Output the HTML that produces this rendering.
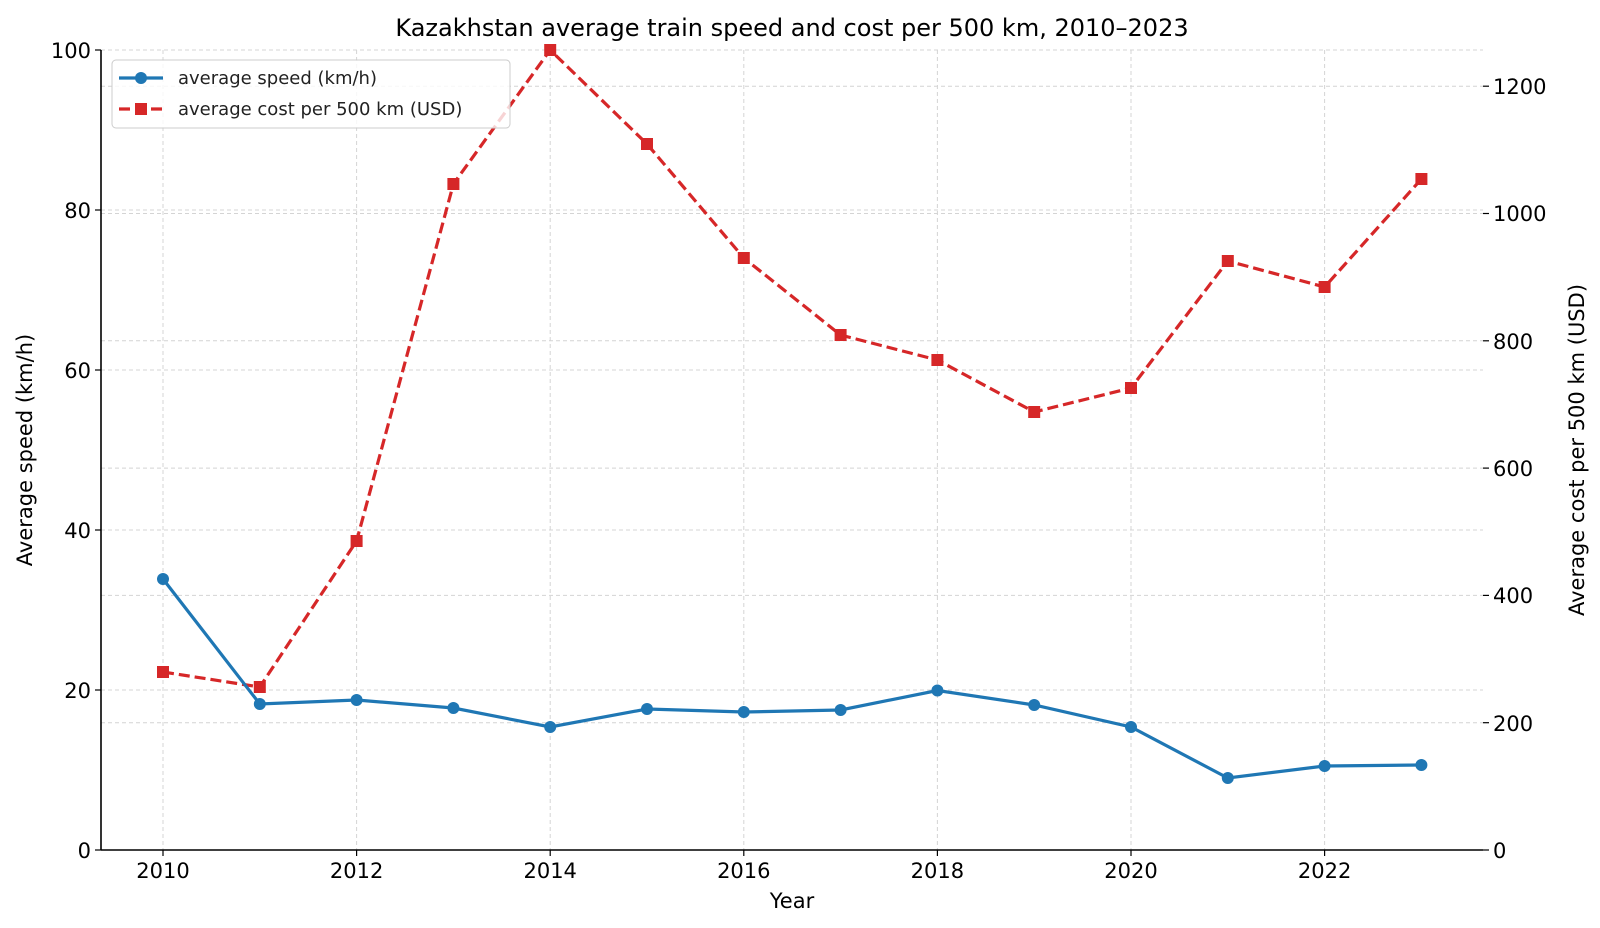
<!DOCTYPE html>
<html><head><meta charset="utf-8"><style>
html,body{margin:0;padding:0;background:#fff;}
svg{display:block;font-family:"DejaVu Sans","Liberation Sans",sans-serif;}
</style></head><body>
<svg width="1600" height="928" viewBox="0 0 1600 928" xmlns="http://www.w3.org/2000/svg">
<rect width="1600" height="928" fill="#fff"/>
<g stroke="#d4d4d4" stroke-width="1" stroke-dasharray="4,3">
<line x1="163" y1="50" x2="163" y2="850"/><line x1="356.6" y1="50" x2="356.6" y2="850"/><line x1="550.2" y1="50" x2="550.2" y2="850"/><line x1="743.8" y1="50" x2="743.8" y2="850"/><line x1="937.4" y1="50" x2="937.4" y2="850"/><line x1="1131" y1="50" x2="1131" y2="850"/><line x1="1324.6" y1="50" x2="1324.6" y2="850"/>
<line x1="101" y1="50" x2="1483" y2="50"/><line x1="101" y1="210" x2="1483" y2="210"/><line x1="101" y1="370" x2="1483" y2="370"/><line x1="101" y1="530" x2="1483" y2="530"/><line x1="101" y1="690" x2="1483" y2="690"/>
<line x1="101" y1="722.7" x2="1483" y2="722.7"/><line x1="101" y1="595.4" x2="1483" y2="595.4"/><line x1="101" y1="468.1" x2="1483" y2="468.1"/><line x1="101" y1="340.8" x2="1483" y2="340.8"/><line x1="101" y1="213.5" x2="1483" y2="213.5"/><line x1="101" y1="86.2" x2="1483" y2="86.2"/>
</g>
<g stroke="#000" stroke-width="1.6" fill="none">
<line x1="101" y1="50" x2="101" y2="850"/><line x1="101" y1="850" x2="1483" y2="850"/>
</g>
<g stroke="#000" stroke-width="1.2">
<line x1="95" y1="50" x2="101" y2="50"/><line x1="95" y1="210" x2="101" y2="210"/><line x1="95" y1="370" x2="101" y2="370"/><line x1="95" y1="530" x2="101" y2="530"/><line x1="95" y1="690" x2="101" y2="690"/><line x1="95" y1="850" x2="101" y2="850"/>
<line x1="163" y1="850" x2="163" y2="856"/><line x1="356.6" y1="850" x2="356.6" y2="856"/><line x1="550.2" y1="850" x2="550.2" y2="856"/><line x1="743.8" y1="850" x2="743.8" y2="856"/><line x1="937.4" y1="850" x2="937.4" y2="856"/><line x1="1131" y1="850" x2="1131" y2="856"/><line x1="1324.6" y1="850" x2="1324.6" y2="856"/>
<line x1="1483" y1="850" x2="1489" y2="850"/><line x1="1483" y1="722.7" x2="1489" y2="722.7"/><line x1="1483" y1="595.4" x2="1489" y2="595.4"/><line x1="1483" y1="468.1" x2="1489" y2="468.1"/><line x1="1483" y1="340.8" x2="1489" y2="340.8"/><line x1="1483" y1="213.5" x2="1489" y2="213.5"/><line x1="1483" y1="86.2" x2="1489" y2="86.2"/>
</g>
<g font-size="21" fill="#000">
<g text-anchor="end">
<text x="91" y="58">100</text><text x="91" y="218">80</text><text x="91" y="378">60</text><text x="91" y="538">40</text><text x="91" y="698">20</text><text x="91" y="858">0</text>
</g>
<g text-anchor="middle">
<text x="163" y="878">2010</text><text x="356.6" y="878">2012</text><text x="550.2" y="878">2014</text><text x="743.8" y="878">2016</text><text x="937.4" y="878">2018</text><text x="1131" y="878">2020</text><text x="1324.6" y="878">2022</text>
<text x="792" y="908">Year</text>
<text x="792" y="36" font-size="24">Kazakhstan average train speed and cost per 500 km, 2010–2023</text>
</g>
<g text-anchor="start">
<text x="1493" y="858">0</text><text x="1493" y="731">200</text><text x="1493" y="603">400</text><text x="1493" y="476">600</text><text x="1493" y="349">800</text><text x="1493" y="221">1000</text><text x="1493" y="94">1200</text>
</g>
<text transform="translate(32,450) rotate(-90)" text-anchor="middle">Average speed (km/h)</text>
<text transform="translate(1584,450) rotate(-90)" text-anchor="middle">Average cost per 500 km (USD)</text>
</g>
<polyline fill="none" stroke="#d62728" stroke-width="3.2" stroke-dasharray="11,5" points="163,672 259.8,687 356.6,541 453.4,184 550.2,50 647,144 743.8,258 840.6,335 937.4,360 1034.2,412 1131,388 1227.8,261 1324.6,287 1421.4,179"/>
<g fill="#d62728">
<rect x="157" y="666" width="12" height="12"/><rect x="253.8" y="681" width="12" height="12"/><rect x="350.6" y="535" width="12" height="12"/><rect x="447.4" y="178" width="12" height="12"/><rect x="544.2" y="44" width="12" height="12"/><rect x="641" y="138" width="12" height="12"/><rect x="737.8" y="252" width="12" height="12"/><rect x="834.6" y="329" width="12" height="12"/><rect x="931.4" y="354" width="12" height="12"/><rect x="1028.2" y="406" width="12" height="12"/><rect x="1125" y="382" width="12" height="12"/><rect x="1221.8" y="255" width="12" height="12"/><rect x="1318.6" y="281" width="12" height="12"/><rect x="1415.4" y="173" width="12" height="12"/>
</g>
<polyline fill="none" stroke="#1f77b4" stroke-width="3.2" points="163,579 259.8,704 356.6,700 453.4,708 550.2,727 647,709 743.8,712 840.6,710 937.4,690.5 1034.2,705 1131,727 1227.8,778 1324.6,766 1421.4,765"/>
<g fill="#1f77b4">
<circle cx="163" cy="579" r="6"/><circle cx="259.8" cy="704" r="6"/><circle cx="356.6" cy="700" r="6"/><circle cx="453.4" cy="708" r="6"/><circle cx="550.2" cy="727" r="6"/><circle cx="647" cy="709" r="6"/><circle cx="743.8" cy="712" r="6"/><circle cx="840.6" cy="710" r="6"/><circle cx="937.4" cy="690.5" r="6"/><circle cx="1034.2" cy="705" r="6"/><circle cx="1131" cy="727" r="6"/><circle cx="1227.8" cy="778" r="6"/><circle cx="1324.6" cy="766" r="6"/><circle cx="1421.4" cy="765" r="6"/>
</g>
<rect x="112" y="60" width="398" height="68" rx="4" fill="#fff" fill-opacity="0.8" stroke="#ccc" stroke-width="1"/>
<line x1="119" y1="78" x2="163" y2="78" stroke="#1f77b4" stroke-width="3.2"/><circle cx="141" cy="78" r="6" fill="#1f77b4"/>
<line x1="119" y1="109" x2="163" y2="109" stroke="#d62728" stroke-width="3.2" stroke-dasharray="11,5"/><rect x="135" y="103" width="12" height="12" fill="#d62728"/>
<g font-size="18" fill="#222">
<text x="178" y="84">average speed (km/h)</text>
<text x="178" y="115">average cost per 500 km (USD)</text>
</g>
</svg>
</body></html>
